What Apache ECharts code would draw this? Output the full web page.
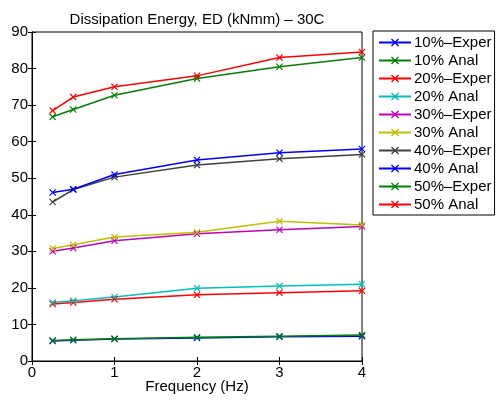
<!DOCTYPE html>
<html><head><meta charset="utf-8">
<script src="https://cdn.jsdelivr.net/npm/echarts@6/dist/echarts.min.js"></script>
<style>html,body{margin:0;padding:0;background:#fff}#c{width:496px;height:402px}</style>
</head><body><div id="c"></div>
<script>
const freq = [0.25, 0.5, 1, 2, 3, 4];
const names = ['10%\u2013Exper','10% Anal','20%\u2013Exper','20% Anal','30%\u2013Exper','30% Anal','40%\u2013Exper','40% Anal','50%\u2013Exper','50% Anal'];
const colors = ['#0000ff','#008000','#ff0000','#00bfbf','#bf00bf','#bfbf00','#404040','#0000ff','#008000','#ff0000'];
const exp10 = [5.5, 5.7, 6.0, 6.3, 6.6, 6.8];
const anal10 = [5.6, 5.8, 6.1, 6.5, 6.8, 7.1];
const exp20 = [15.6, 16.0, 16.9, 18.1, 18.7, 19.2];
const anal20 = [16.0, 16.5, 17.5, 19.9, 20.5, 21.0];
const exp30 = [30.0, 30.9, 32.9, 34.8, 35.9, 36.8];
const anal30 = [30.8, 31.8, 33.9, 35.2, 38.2, 37.2];
const exp40 = [43.5, 46.9, 50.3, 53.6, 55.3, 56.5];
const anal40 = [46.1, 47.0, 51.0, 55.0, 57.0, 58.0];
const exp50 = [66.8, 68.8, 72.7, 77.3, 80.5, 83.0];
const anal50 = [68.5, 72.2, 75.0, 78.0, 83.0, 84.5];
const values = [exp10, anal10, exp20, anal20, exp30, anal30, exp40, anal40, exp50, anal50];

const xSym = 'path://M0,1.2L1.2,0L5,3.8L8.8,0L10,1.2L6.2,5L10,8.8L8.8,10L5,6.2L1.2,10L0,8.8L3.8,5Z';
const font = 'Liberation Sans, Arial, Helvetica, sans-serif';
const fs = 15;

const series = names.map((n, i) => ({
  name: n, type: 'line',
  data: freq.map((f, j) => [f, values[i][j]]),
  symbol: xSym, symbolSize: 7, showSymbol: true,
  lineStyle: { color: colors[i], width: 1.5 },
  itemStyle: { color: colors[i] },
  animation: false
}));

const chart = echarts.init(document.getElementById('c'), null, { renderer: 'canvas' });
chart.setOption({
  animation: false,
  textStyle: { fontFamily: font },
  title: {
    text: 'Dissipation Energy, ED (kNmm) \u2013 30C',
    left: 192, top: 7, textAlign: 'center',
    textStyle: { fontSize: fs, fontWeight: 'normal', color: '#000', fontFamily: font }
  },
  legend: {
    orient: 'vertical', left: 373, top: 31,
    itemWidth: 32, itemHeight: 10, itemGap: 3,
    padding: [4, 3, 3, 5],
    borderColor: '#000', borderWidth: 1,
    textStyle: { fontSize: fs, color: '#000', fontFamily: font, padding: [0, 0, 0, -2] },
    data: names
  },
  grid: { left: 32, top: 32, width: 330, height: 329, show: true, borderColor: '#000', borderWidth: 1, containLabel: false, outerBoundsMode: 'none' },
  xAxis: [{
    type: 'value', min: 0, max: 4, interval: 1,
    name: 'Frequency (Hz)', nameLocation: 'middle', nameGap: 18, nameMoveOverlap: false,
    nameTextStyle: { fontSize: fs, color: '#000', fontFamily: font },
    axisLine: { show: true, lineStyle: { color: '#000' } },
    axisTick: { show: true, inside: true, length: 4, lineStyle: { color: '#000' } },
    axisLabel: { fontSize: fs, color: '#000', margin: 4, fontFamily: font },
    splitLine: { show: false }
  }, {
    type: 'value', min: 0, max: 4, interval: 1, position: 'top',
    axisLine: { show: true, lineStyle: { color: '#000' } },
    axisTick: { show: true, inside: true, length: 4, lineStyle: { color: '#000' } },
    axisLabel: { show: false }, splitLine: { show: false }
  }],
  yAxis: [{
    type: 'value', min: 0, max: 90, interval: 10,
    axisLine: { show: true, lineStyle: { color: '#000' } },
    axisTick: { show: true, inside: true, length: 4, lineStyle: { color: '#000' } },
    axisLabel: { fontSize: fs, color: '#000', margin: 4, fontFamily: font },
    splitLine: { show: false }
  }, {
    type: 'value', min: 0, max: 90, interval: 10, position: 'right',
    axisLine: { show: true, lineStyle: { color: '#000' } },
    axisTick: { show: true, inside: true, length: 4, lineStyle: { color: '#000' } },
    axisLabel: { show: false }, splitLine: { show: false }
  }],
  series: series
});
</script></body></html>
